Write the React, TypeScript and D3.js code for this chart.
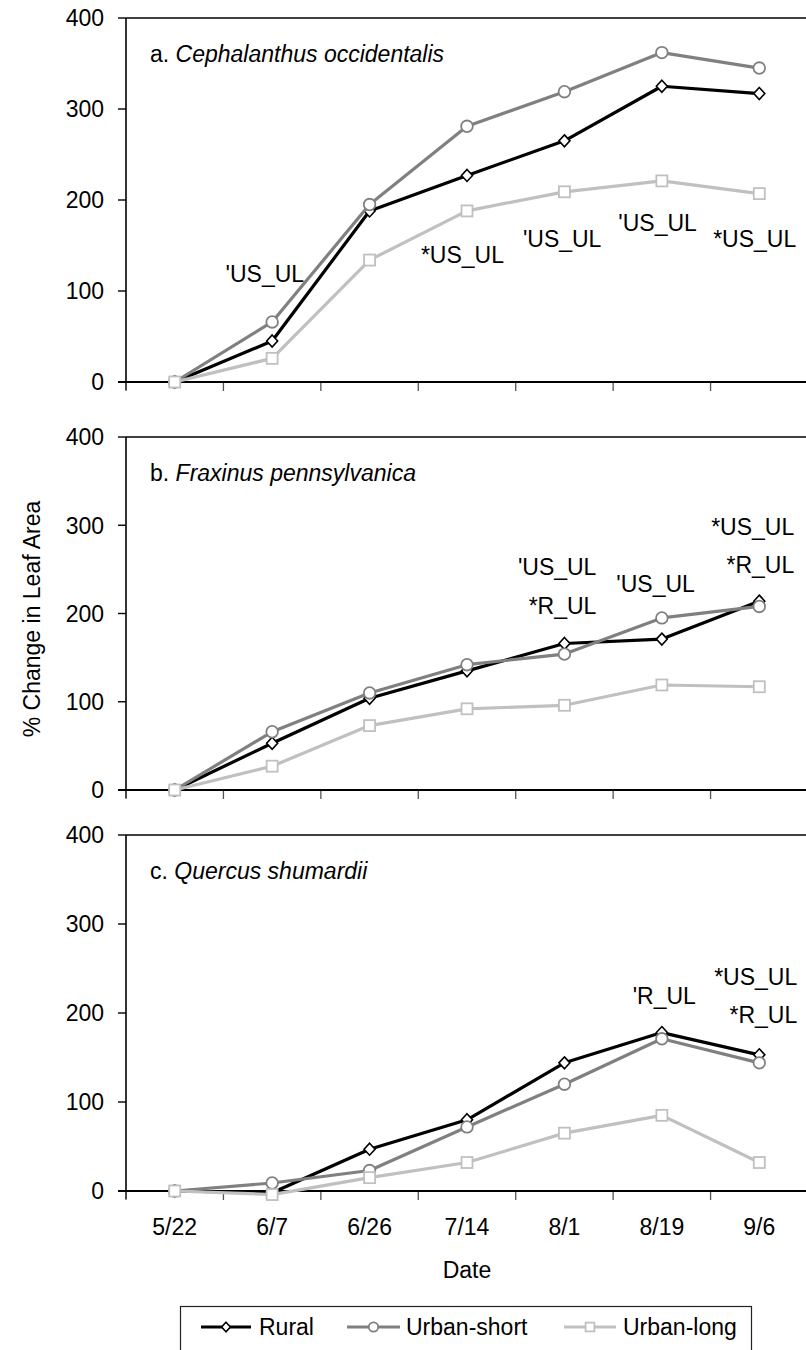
import React from "react";
import * as d3 from "d3";

const width = 806;
const height = 1350;

// dates of measurement
const dates = ["5/22", "6/7", "6/26", "7/14", "8/1", "8/19", "9/6"];
const seriesNames = ["Rural", "Urban-short", "Urban-long"];

// a. Cephalanthus occidentalis
const ruralA = [0, 45, 188, 227, 265, 325, 317];
const shortA = [0, 66, 195, 281, 319, 362, 345];
const longA = [0, 26, 134, 188, 209, 221, 207];

// b. Fraxinus pennsylvanica
const ruralB = [0, 53, 104, 135, 166, 171, 214];
const shortB = [0, 66, 110, 142, 154, 195, 208];
const longB = [0, 27, 73, 92, 96, 119, 117];

// c. Quercus shumardii
const ruralC = [0, -2, 47, 80, 144, 178, 153];
const shortC = [0, 9, 23, 72, 120, 171, 144];
const longC = [0, -4, 15, 32, 65, 85, 32];

const yTicks = [0, 100, 200, 300, 400];

// significance notes: [date, text]
const notesA = [["6/7", "'US_UL"], ["7/14", "*US_UL"], ["8/1", "'US_UL"], ["8/19", "'US_UL"], ["9/6", "*US_UL"]];
const notesB = [["8/1", "'US_UL"], ["8/1", "*R_UL"], ["8/19", "'US_UL"], ["9/6", "*US_UL"], ["9/6", "*R_UL"]];
const notesC = [["8/19", "'R_UL"], ["9/6", "*US_UL"], ["9/6", "*R_UL"]];

// where each note sits: right edge offset from the date (px), baseline in axis units
const notePosA = [[32, 110], [37, 131], [37, 148], [35, 166], [37, 148]];
const notePosB = [[32, 244], [32, 199], [33, 224], [35, 289], [35, 246]];
const notePosC = [[34, 210], [38, 231], [38, 189]];

const panels = [
  { letter: "a.", species: "Cephalanthus occidentalis", series: [ruralA, shortA, longA], notes: notesA, pos: notePosA, top: 18, bottom: 382 },
  { letter: "b.", species: "Fraxinus pennsylvanica", series: [ruralB, shortB, longB], notes: notesB, pos: notePosB, top: 437, bottom: 790 },
  { letter: "c.", species: "Quercus shumardii", series: [ruralC, shortC, longC], notes: notesC, pos: notePosC, top: 835, bottom: 1191 },
];

const colors = ["#000000", "#808080", "#c0c0c0"];
const font = "'Liberation Sans', Arial, sans-serif";
const fs = 23;

const x = d3.scaleBand().domain(dates).range([126, 808]).padding(0);
const cx = (d) => x(d) + x.bandwidth() / 2;

const Marker = ({ kind, px, py, s = 1 }) => {
  if (kind === 0)
    return <path d={`M${px},${py - 6 * s}L${px + 5.5 * s},${py}L${px},${py + 6 * s}L${px - 5.5 * s},${py}Z`} fill="#fff" stroke="#000" strokeWidth={1.6} />;
  if (kind === 1)
    return <circle cx={px} cy={py} r={5.8 * s} fill="#fff" stroke={colors[1]} strokeWidth={1.8} />;
  return <rect x={px - 5.5 * s} y={py - 5.5 * s} width={11 * s} height={11 * s} fill="#fff" stroke={colors[2]} strokeWidth={1.8} />;
};

const Panel = ({ p, last }) => {
  const y = d3.scaleLinear().domain([0, 400]).range([p.bottom, p.top]);
  const line = d3.line().x((d, i) => cx(dates[i])).y((d) => y(d));
  const bounds = d3.range(dates.length + 1).map((i) => 126 + i * x.step());
  return (
    <g>
      {/* frame: top line, y axis, x axis */}
      <line x1={126} x2={width} y1={p.top} y2={p.top} stroke="#000" strokeWidth={1.6} />
      <line x1={126} x2={126} y1={p.top} y2={p.bottom + 8} stroke="#000" strokeWidth={1.6} />
      {yTicks.map((t) => (
        <g key={t}>
          <line x1={118} x2={126} y1={y(t)} y2={y(t)} stroke="#000" strokeWidth={1.4} />
          <text x={104} y={y(t)} dy="0.36em" textAnchor="end" fontSize={fs}>{t}</text>
        </g>
      ))}
      {bounds.map((b, i) => (
        <line key={i} x1={b} x2={b} y1={p.bottom} y2={p.bottom + 9} stroke="#555" strokeWidth={1.3} />
      ))}
      <line x1={118} x2={width} y1={p.bottom} y2={p.bottom} stroke="#000" strokeWidth={1.8} />
      {p.series.map((s, k) => (
        <g key={k}>
          <path d={line(s)} fill="none" stroke={colors[k]} strokeWidth={3.2} strokeLinejoin="round" />
          {s.map((v, i) => <Marker key={i} kind={k} px={cx(dates[i])} py={y(v)} />)}
        </g>
      ))}
      <text x={150} y={p.top + 44} fontSize={fs}>
        {p.letter} <tspan fontStyle="italic">{p.species}</tspan>
      </text>
      {p.notes.map((n, i) => (
        <text key={i} x={cx(n[0]) + p.pos[i][0]} y={y(p.pos[i][1])} textAnchor="end" fontSize={fs}>{n[1]}</text>
      ))}
      {last && dates.map((d) => (
        <text key={d} x={cx(d)} y={p.bottom + 44} textAnchor="middle" fontSize={fs}>{d}</text>
      ))}
    </g>
  );
};

const legendItems = [
  { line: [201, 251], text: 259 },
  { line: [347, 400], text: 406 },
  { line: [564, 616], text: 623 },
];

export default function App() {
  return (
    <svg width={width} height={height} style={{ position: "absolute", left: 0, top: 0, background: "#fff" }} fontFamily={font}>
      {panels.map((p, i) => <Panel key={i} p={p} last={i === panels.length - 1} />)}
      <text transform={`translate(40,619) rotate(-90)`} textAnchor="middle" fontSize={fs}>% Change in Leaf Area</text>
      <text x={(126 + 808) / 2} y={1278} textAnchor="middle" fontSize={fs}>Date</text>
      <rect x={180.5} y={1306.5} width={571} height={60} fill="none" stroke="#222" strokeWidth={1.2} />
      {seriesNames.map((n, k) => {
        const it = legendItems[k];
        const mx = (it.line[0] + it.line[1]) / 2;
        return (
          <g key={n}>
            <line x1={it.line[0]} x2={it.line[1]} y1={1327} y2={1327} stroke={colors[k]} strokeWidth={3.2} />
            <Marker kind={k} px={mx} py={1327} s={0.8} />
            <text x={it.text} y={1335} fontSize={fs}>{n}</text>
          </g>
        );
      })}
    </svg>
  );
}
